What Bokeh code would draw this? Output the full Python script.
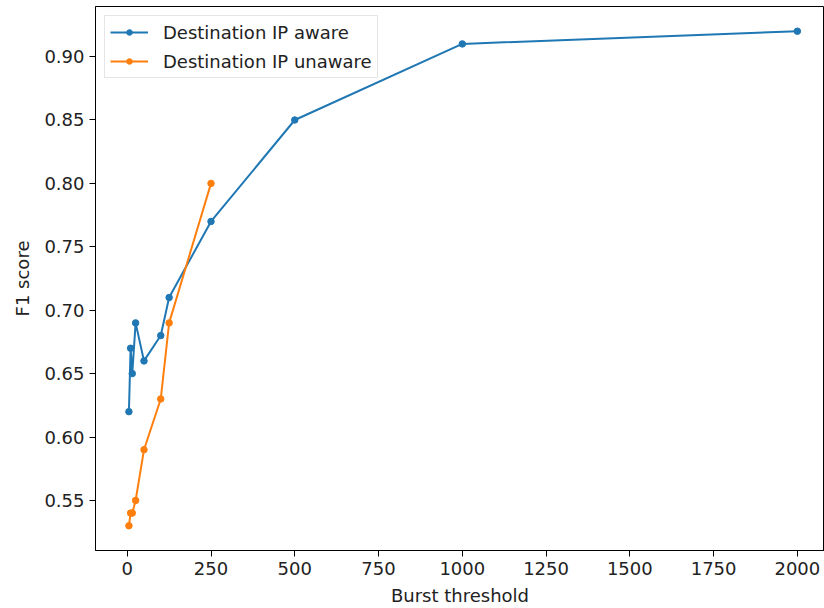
from bokeh.plotting import figure
from bokeh.models import FixedTicker, NumeralTickFormatter, Range1d, Legend, LegendItem
from bokeh.embed import file_html
from bokeh.resources import INLINE

# Burst thresholds and F1 scores for both configurations
aware_threshold = [5, 10, 15, 25, 50, 100, 125, 250, 500, 1000, 2000]
aware_f1 = [0.62, 0.67, 0.65, 0.69, 0.66, 0.68, 0.71, 0.77, 0.85, 0.91, 0.92]

unaware_threshold = [5, 10, 15, 25, 50, 100, 125, 250]
unaware_f1 = [0.53, 0.54, 0.54, 0.55, 0.59, 0.63, 0.69, 0.80]

x_ticks = [0, 250, 500, 750, 1000, 1250, 1500, 1750, 2000]
y_ticks = [0.55, 0.60, 0.65, 0.70, 0.75, 0.80, 0.85, 0.90]

BLUE = "#1f77b4"
ORANGE = "#ff7f0e"
FONT = "DejaVu Sans"
FS = "18px"

p = figure(width=824, height=608, output_backend="svg", toolbar_location=None,
           x_range=Range1d(-94.75, 2081), y_range=Range1d(0.5105, 0.9395),
           min_border_left=95, min_border_right=0, min_border_top=6,
           min_border_bottom=58)

p.xgrid.visible = False
p.ygrid.visible = False
p.outline_line_color = "black"
p.outline_line_width = 1
p.background_fill_color = "white"
p.border_fill_color = "white"

for ax in (p.xaxis[0], p.yaxis[0]):
    ax.axis_line_color = "black"
    ax.major_tick_line_color = "black"
    ax.major_tick_out = 6
    ax.major_tick_in = 0
    ax.minor_tick_line_color = None
    ax.major_label_standoff = 5
    ax.major_label_text_font = FONT
    ax.major_label_text_font_size = FS
    ax.major_label_text_color = "#222222"
    ax.axis_label_text_font = FONT
    ax.axis_label_text_font_size = FS
    ax.axis_label_text_font_style = "normal"
    ax.axis_label_text_color = "#222222"

p.xaxis.ticker = FixedTicker(ticks=x_ticks)
p.yaxis.ticker = FixedTicker(ticks=y_ticks)
p.yaxis.formatter = NumeralTickFormatter(format="0.00")
p.xaxis.axis_label = "Burst threshold"
p.yaxis.axis_label = "F1 score"
p.xaxis.axis_label_standoff = 7
p.yaxis.axis_label_standoff = 8

l1 = p.line(aware_threshold, aware_f1, line_color=BLUE, line_width=2)
s1 = p.scatter(aware_threshold, aware_f1, size=6.5, fill_color=BLUE, line_color=BLUE)
l2 = p.line(unaware_threshold, unaware_f1, line_color=ORANGE, line_width=2)
s2 = p.scatter(unaware_threshold, unaware_f1, size=6.5, fill_color=ORANGE, line_color=ORANGE)

legend = Legend(items=[
    LegendItem(label="Destination IP aware", renderers=[l1, s1]),
    LegendItem(label="Destination IP unaware", renderers=[l2, s2]),
], location="top_left")
legend.margin = 9
legend.padding = 5
legend.spacing = 7
legend.glyph_width = 38
legend.glyph_height = 14
legend.label_height = 22
legend.label_standoff = 15
legend.label_text_font = FONT
legend.label_text_font_size = FS
legend.label_text_color = "#222222"
legend.border_line_color = "#cccccc"
legend.border_line_width = 1
legend.background_fill_alpha = 0.8
p.add_layout(legend)

open("out.html", "w").write(file_html(p, INLINE))
